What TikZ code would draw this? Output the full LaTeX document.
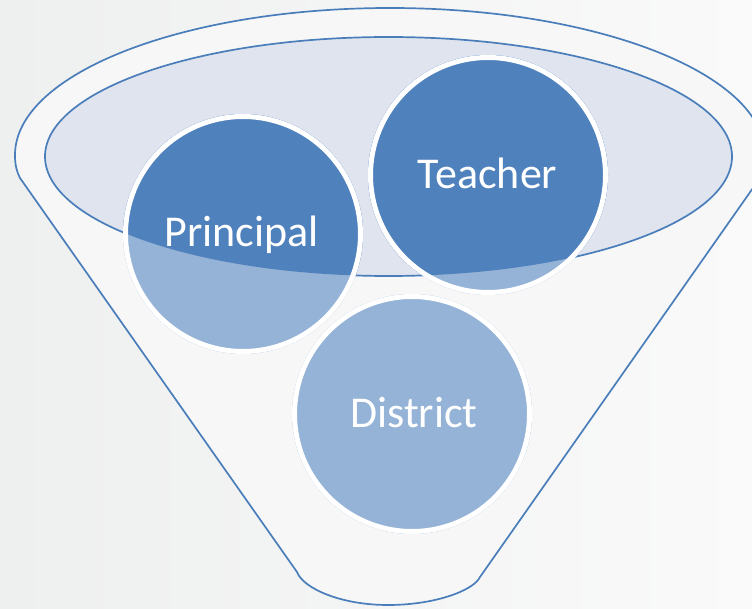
\documentclass[tikz,border=0pt]{standalone}
\usepackage{fontspec}
\setmainfont{Carlito}
\definecolor{bgL}{HTML}{EEEFEF}
\definecolor{bgR}{HTML}{FAFAFA}
\definecolor{funnelfill}{HTML}{F7F7F7}
\definecolor{rimline}{HTML}{4A7EBB}
\definecolor{innerfill}{HTML}{DFE4EE}
\definecolor{darkblue}{HTML}{4F81BD}
\definecolor{lightblue}{HTML}{95B3D7}
\tikzset{
  rim/.style={draw=rimline, line width=1.7pt},
  ball/.style={circle, minimum size=240pt, inner sep=0pt, fill=lightblue},
  balltext/.style={text=white, font=\fontsize{44}{52}\selectfont, anchor=base, inner sep=0pt},
  ballborder/.style={draw=white, line width=5pt}
}
\begin{document}
\begin{tikzpicture}[x=1pt,y=-1pt]
\useasboundingbox (0,0) rectangle (752,609);
% background
\shade[left color=bgL, right color=bgR] (0,0) rectangle (752,609);
% funnel body
\path[rim, fill=funnelfill]
  (20,178) -- (297,572)
  .. controls (303,588) and (340,605) .. (388,605)
  .. controls (436,605) and (474,590) .. (480,577)
  -- (760,178)
  .. controls (763,172) and (765,166) .. (765,155)
  arc[start angle=0, end angle=-180, x radius=375, y radius=147]
  .. controls (15,166) and (17,172) .. (20,178) -- cycle;
% inner ellipse
\path[rim, fill=innerfill] (388.5,156.5) ellipse[x radius=343.5, y radius=119.5];
% circles (light fill)
\node[ball] (principal) at (243,234) {};
\node[ball] (teacher) at (488,175) {};
\node[ball] (district) at (412,414) {};
% dark parts inside inner ellipse
\begin{scope}
  \clip (388.5,156.5) ellipse[x radius=343.5, y radius=119.5];
  \fill[darkblue] (principal.center) circle[radius=120];
  \fill[darkblue] (teacher.center) circle[radius=120];
\end{scope}
% white borders
\draw[ballborder] (principal.center) circle[radius=117.5];
\draw[ballborder] (teacher.center) circle[radius=117.5];
\draw[ballborder] (district.center) circle[radius=117.5];
% labels
\node[balltext] (tp) at (241.5,247) {Principal};
\node[balltext] (tt) at (487.5,189) {Teacher};
\node[balltext] (td) at (414,427) {District};
\end{tikzpicture}
\end{document}
